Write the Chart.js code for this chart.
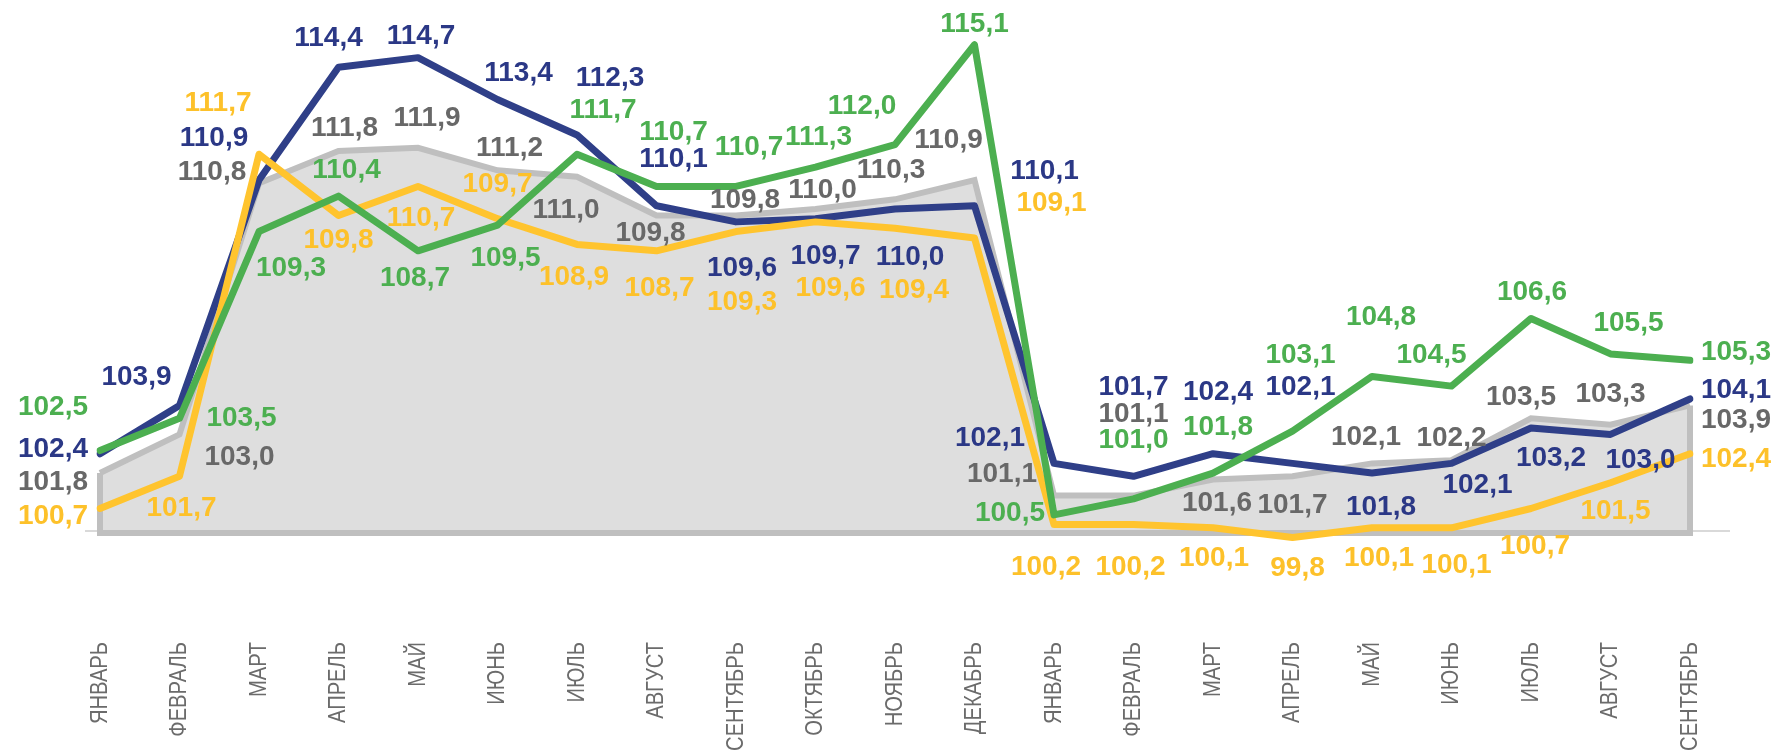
<!DOCTYPE html>
<html>
<head>
<meta charset="utf-8">
<script src="https://cdn.jsdelivr.net/npm/chart.js@4.4.0/dist/chart.umd.min.js"></script>
<style>
  body { margin: 0; background: #fff; }
  #wrap { width: 1778px; height: 751px; }
</style>
</head>
<body>
<div id="wrap"><canvas id="chart" width="1778" height="751"></canvas></div>
<script>
const months = ["ЯНВАРЬ", "ФЕВРАЛЬ", "МАРТ", "АПРЕЛЬ", "МАЙ", "ИЮНЬ", "ИЮЛЬ", "АВГУСТ",
  "СЕНТЯБРЬ", "ОКТЯБРЬ", "НОЯБРЬ", "ДЕКАБРЬ", "ЯНВАРЬ", "ФЕВРАЛЬ", "МАРТ", "АПРЕЛЬ",
  "МАЙ", "ИЮНЬ", "ИЮЛЬ", "АВГУСТ", "СЕНТЯБРЬ"];

const grayVals = [101.8, 103.0, 110.8, 111.8, 111.9, 111.2, 111.0, 109.8, 109.8, 110.0, 110.3, 110.9,
  101.1, 101.1, 101.6, 101.7, 102.1, 102.2, 103.5, 103.3, 103.9];
const blueVals = [102.4, 103.9, 110.9, 114.4, 114.7, 113.4, 112.3, 110.1, 109.6, 109.7, 110.0, 110.1,
  102.1, 101.7, 102.4, 102.1, 101.8, 102.1, 103.2, 103.0, 104.1];
const greenVals = [102.5, 103.5, 109.3, 110.4, 108.7, 109.5, 111.7, 110.7, 110.7, 111.3, 112.0, 115.1,
  100.5, 101.0, 101.8, 103.1, 104.8, 104.5, 106.6, 105.5, 105.3];
const yellowVals = [100.7, 101.7, 111.7, 109.8, 110.7, 109.7, 108.9, 108.7, 109.3, 109.6, 109.4, 109.1,
  100.2, 100.2, 100.1, 99.8, 100.1, 100.1, 100.7, 101.5, 102.4];

// where each value label sits relative to its point (dx, dy in px)
const blueLabelOff = [[-47,-4],[-43,-28],[-45,-42],[-10,-29],[3,-21],[21,-26],[33,-57],[17,-46],[6,46],[10,38],[15,48],[70,-34],
  [-64,-25],[0,-89],[5,-61],[8,-76],[9,34],[26,22],[20,30],[30,26],[46,-9]];
const greenLabelOff = [[-47,-43],[62,0],[32,37],[8,-26],[-3,27],[8,33],[26,-44],[17,-54],[13,-39],[3,-30],[-33,-38],[0,-20],
  [-44,-2],[0,-59],[5,-46],[8,-76],[9,-59],[-20,-31],[1,-26],[18,-31],[46,-8]];
const grayLabelOff = [[-47,9],[60,23],[-47,-11],[6,-23],[9,-30],[12,-22],[-11,33],[-6,18],[9,-15],[7,-19],[-4,-29],[-26,-40],
  [-52,-21],[0,-81],[4,24],[0,29],[-6,-26],[0,-22],[-10,-21],[0,-30],[46,15]];
const yellowLabelOff = [[-47,8],[2,32],[-41,-51],[0,25],[3,32],[0,-34],[-3,33],[3,37],[6,71],[15,66],[19,62],[77,-35],
  [-8,43],[-3,43],[1,30],[5,31],[7,30],[5,37],[4,38],[5,29],[46,6]];

const BASE = 100;
const fmt = v => v.toFixed(1).replace(".", ",");

const areaOutline = {
  id: "areaOutline",
  beforeDatasetsDraw(chart) {
    const ctx = chart.ctx, y0 = chart.scales.y.getPixelForValue(BASE);
    ctx.save();
    ctx.strokeStyle = "#d9d9d9";
    ctx.lineWidth = 2;
    ctx.beginPath();
    ctx.moveTo(chart.chartArea.left - 15, y0);
    ctx.lineTo(chart.chartArea.right + 40, y0);
    ctx.stroke();
    ctx.restore();
  },
  afterDatasetDraw(chart, args) {
    if (args.index !== 3) return;
    const pts = args.meta.data, ctx = chart.ctx;
    const y0 = chart.scales.y.getPixelForValue(BASE) + 2;
    const first = pts[0], last = pts[pts.length - 1];
    ctx.save();
    ctx.strokeStyle = "#bfbfbf";
    ctx.lineWidth = 6;
    ctx.lineJoin = "miter";
    ctx.beginPath();
    ctx.moveTo(first.x, first.y);
    ctx.lineTo(first.x, y0);
    ctx.lineTo(last.x, y0);
    ctx.lineTo(last.x, last.y);
    ctx.stroke();
    ctx.restore();
  }
};

const valueLabels = {
  id: "valueLabels",
  afterDatasetsDraw(chart) {
    const ctx = chart.ctx;
    ctx.save();
    ctx.font = 'bold 28px "Liberation Sans", Arial, sans-serif';
    ctx.textAlign = "center";
    ctx.textBaseline = "middle";
    [3, 2, 1, 0].forEach(i => {
      const ds = chart.data.datasets[i];
      const meta = chart.getDatasetMeta(i);
      ctx.fillStyle = ds.labelColor;
      meta.data.forEach((pt, j) => {
        const off = ds.labelOff[j];
        ctx.fillText(fmt(ds.data[j]), pt.x + off[0], pt.y + off[1]);
      });
    });
    ctx.restore();
  }
};

// month names: narrow, vertical, hanging from the axis
const monthLabels = {
  id: "monthLabels",
  afterDraw(chart) {
    const ctx = chart.ctx, xs = chart.scales.x;
    ctx.save();
    ctx.font = '24px "Liberation Sans", Arial, sans-serif';
    ctx.fillStyle = "#6b6b6b";
    ctx.textAlign = "right";
    ctx.textBaseline = "middle";
    chart.data.labels.forEach((lab, i) => {
      ctx.save();
      ctx.translate(xs.getPixelForTick(i), xs.top + 6);
      ctx.rotate(-Math.PI / 2);
      ctx.scale(0.84, 1);
      ctx.fillText(lab, 0, 0);
      ctx.restore();
    });
    ctx.restore();
  }
};

const lineStyle = {
  borderWidth: 7,
  pointRadius: 0,
  tension: 0,
  borderCapStyle: "round",
  borderJoinStyle: "round",
  fill: false
};

new Chart(document.getElementById("chart"), {
  type: "line",
  data: {
    labels: months,
    datasets: [
      { ...lineStyle, data: greenVals, borderColor: "#4caf50", labelColor: "#4caf50", labelOff: greenLabelOff },
      { ...lineStyle, data: yellowVals, borderColor: "#ffc42e", labelColor: "#fdc12a", labelOff: yellowLabelOff },
      { ...lineStyle, data: blueVals, borderColor: "#2f3f88", labelColor: "#2b3886", labelOff: blueLabelOff },
      {
        data: grayVals,
        borderColor: "#bfbfbf",
        backgroundColor: "#dedede",
        borderWidth: 6,
        pointRadius: 0,
        tension: 0,
        fill: { value: BASE },
        labelColor: "#686868",
        labelOff: grayLabelOff
      }
    ]
  },
  options: {
    responsive: false,
    animation: false,
    layout: { padding: { left: 100, right: 88, top: 0, bottom: 0 } },
    plugins: { legend: { display: false }, tooltip: { enabled: false } },
    scales: {
      x: {
        offset: false,
        grid: { display: false, drawTicks: false },
        border: { display: false },
        ticks: { display: false, autoSkip: false },
        afterFit: axis => { axis.height = 115; }
      },
      y: {
        display: false,
        min: 96.74,
        max: 116.49
      }
    }
  },
  plugins: [areaOutline, valueLabels, monthLabels]
});
</script>
</body>
</html>
